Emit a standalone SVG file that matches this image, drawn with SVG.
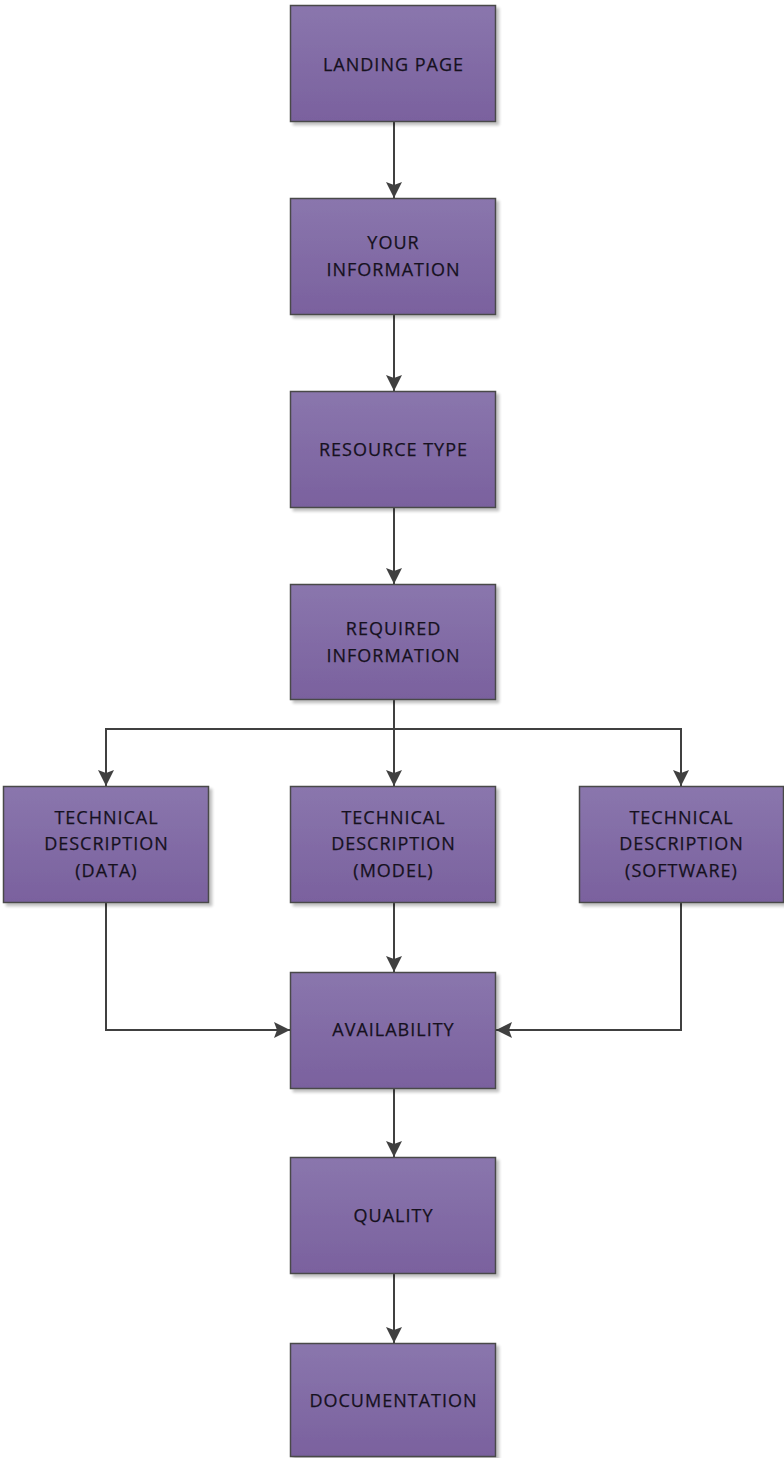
<svg xmlns="http://www.w3.org/2000/svg" width="784" height="1458" viewBox="0 0 784 1458">
  <defs>
    <linearGradient id="boxFill" x1="0" y1="0" x2="0" y2="1">
      <stop offset="0" stop-color="#8a76ad"/>
      <stop offset="1" stop-color="#7a619e"/>
    </linearGradient>
    <filter id="shadow" x="-10%" y="-10%" width="130%" height="130%">
      <feGaussianBlur in="SourceAlpha" stdDeviation="1.5"/>
      <feOffset dx="3" dy="3"/>
      <feComponentTransfer><feFuncA type="linear" slope="0.25"/></feComponentTransfer>
      <feMerge><feMergeNode/><feMergeNode in="SourceGraphic"/></feMerge>
    </filter>
    <marker id="arrow" viewBox="0 0 16 16" refX="16" refY="8" markerWidth="16" markerHeight="16" markerUnits="userSpaceOnUse" orient="auto">
      <path d="M0,0 L16,8 L0,16 L3,8 Z" fill="#404040"/>
    </marker>
  </defs>
  <style>
    .box { fill: url(#boxFill); stroke: #4a4a4a; stroke-width: 1.5; filter: url(#shadow); }
    .lbl { font-family: "Open Sans", "Liberation Sans", sans-serif; font-size: 18px; font-weight: 400; letter-spacing: 1px; fill: #16111e; stroke: #16111e; stroke-width: 0.25; text-anchor: middle; }
    .edge { fill: none; stroke: #404040; stroke-width: 2; marker-end: url(#arrow); }
  </style>

  <g id="connectors">
    <path class="edge" d="M394,122 V198"/>
    <path class="edge" d="M394,315 V391"/>
    <path class="edge" d="M394,507 V584"/>
    <path class="edge" d="M394,700 V786"/>
    <path class="edge" d="M394,729 H106 V786"/>
    <path class="edge" d="M394,729 H681 V786"/>
    <path class="edge" d="M394,902 V972"/>
    <path class="edge" d="M106,902 V1030 H290"/>
    <path class="edge" d="M681,902 V1030 H496"/>
    <path class="edge" d="M394,1088 V1157"/>
    <path class="edge" d="M394,1273 V1343"/>
  </g>

  <g id="landing-page">
    <rect class="box" x="290.5" y="5.5" width="205" height="116"/>
    <text class="lbl" x="393.5" y="70.5">LANDING PAGE</text>
  </g>
  <g id="your-information">
    <rect class="box" x="290.5" y="198.5" width="205" height="116"/>
    <text class="lbl" x="393.5" y="249">YOUR</text>
    <text class="lbl" x="393.5" y="275.5">INFORMATION</text>
  </g>
  <g id="resource-type">
    <rect class="box" x="290.5" y="391.5" width="205" height="116"/>
    <text class="lbl" x="393.5" y="455.5">RESOURCE TYPE</text>
  </g>
  <g id="required-information">
    <rect class="box" x="290.5" y="584.5" width="205" height="115"/>
    <text class="lbl" x="393.5" y="635">REQUIRED</text>
    <text class="lbl" x="393.5" y="661.5">INFORMATION</text>
  </g>
  <g id="tech-data">
    <rect class="box" x="3.5" y="786.5" width="205" height="116"/>
    <text class="lbl" x="106.5" y="823.5">TECHNICAL</text>
    <text class="lbl" x="106.5" y="850">DESCRIPTION</text>
    <text class="lbl" x="106.5" y="876.5">(DATA)</text>
  </g>
  <g id="tech-model">
    <rect class="box" x="290.5" y="786.5" width="205" height="116"/>
    <text class="lbl" x="393.5" y="823.5">TECHNICAL</text>
    <text class="lbl" x="393.5" y="850">DESCRIPTION</text>
    <text class="lbl" x="393.5" y="876.5">(MODEL)</text>
  </g>
  <g id="tech-software">
    <rect class="box" x="579.5" y="786.5" width="204" height="116"/>
    <text class="lbl" x="681.5" y="823.5">TECHNICAL</text>
    <text class="lbl" x="681.5" y="850">DESCRIPTION</text>
    <text class="lbl" x="681.5" y="876.5">(SOFTWARE)</text>
  </g>
  <g id="availability">
    <rect class="box" x="290.5" y="972.5" width="205" height="116"/>
    <text class="lbl" x="393.5" y="1036">AVAILABILITY</text>
  </g>
  <g id="quality">
    <rect class="box" x="290.5" y="1157.5" width="205" height="116"/>
    <text class="lbl" x="393.5" y="1221.5">QUALITY</text>
  </g>
  <g id="documentation">
    <rect class="box" x="290.5" y="1343.5" width="205" height="113"/>
    <text class="lbl" x="393.5" y="1406.5">DOCUMENTATION</text>
  </g>
</svg>
